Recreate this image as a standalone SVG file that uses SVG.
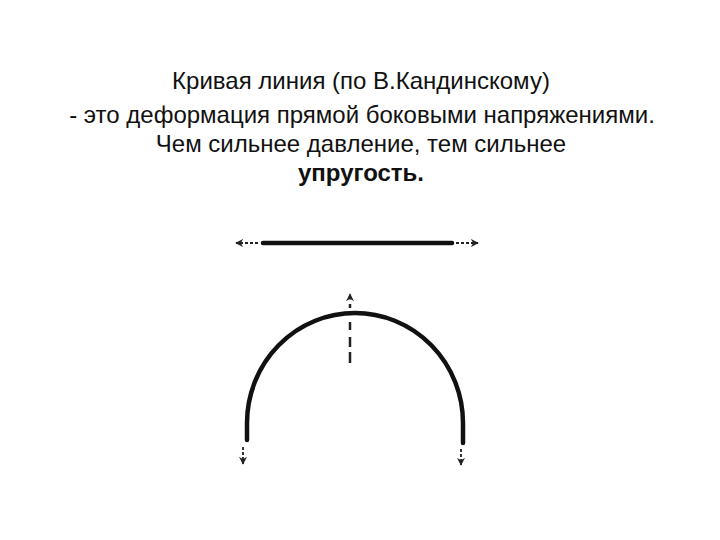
<svg xmlns="http://www.w3.org/2000/svg" width="720" height="540" viewBox="0 0 720 540">
<defs>
<style>
.t{font-family:"Liberation Sans",Arial,sans-serif;font-size:24px;fill:#111;text-anchor:middle}
.b{font-weight:bold}
.thick{fill:none;stroke:#111;stroke-width:4.5;stroke-linecap:round}
.dash{fill:none;stroke:#222;stroke-width:1.8;stroke-dasharray:3 2}
</style>
<marker id="ah" viewBox="0 0 10 10" refX="9" refY="5" markerWidth="8" markerHeight="8" markerUnits="userSpaceOnUse" orient="auto">
<path d="M0,0 L10,5 L0,10 L3,5 Z" fill="#222"/>
</marker>
</defs>
<rect width="720" height="540" fill="#fff"/>
<g id="title">
<text class="t" x="361" y="89">Кривая линия (по В.Кандинскому)</text>
<text class="t" x="362" y="123">- это деформация прямой боковыми напряжениями.</text>
<text class="t" x="361" y="152">Чем сильнее давление, тем сильнее</text>
<text class="t b" x="361" y="181">упругость.</text>
</g>
<g id="straight-line">
<path class="thick" d="M263,243 L452,243"/>
</g>
<g id="arch">
<path class="thick" d="M247,440 L247,423 A108,110 0 0 1 463,423 L463,443"/>
</g>
<g id="connectors">
<path class="dash" d="M258,243 L236,243" marker-end="url(#ah)"/>
<path class="dash" d="M456,243 L478,243" marker-end="url(#ah)"/>
<path d="M350,363 L350,352 M350,347 L350,337 M350,330 L350,322 M350,308 L350,304" fill="none" stroke="#222" stroke-width="2.5"/>
<path d="M350,300 L350,294" fill="none" stroke="#222" stroke-width="1" marker-end="url(#ah)"/>
<path class="dash" d="M243,447 L243,464" marker-end="url(#ah)"/>
<path class="dash" d="M461,449 L461,465" marker-end="url(#ah)"/>
</g>
</svg>
